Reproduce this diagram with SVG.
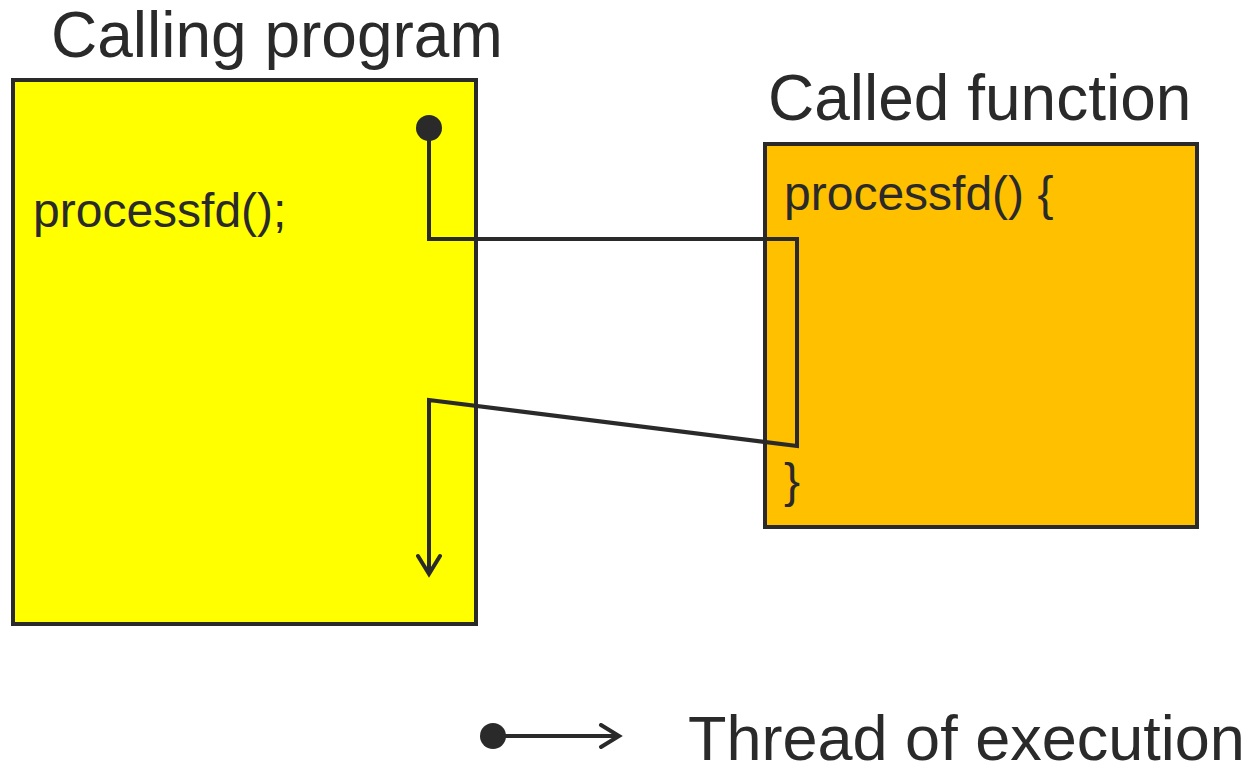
<svg xmlns="http://www.w3.org/2000/svg" width="1252" height="764" viewBox="0 0 1252 764">
<style>
.t{font-family:"Liberation Sans",Arial,sans-serif;fill:#2a2a2a}
.big{font-size:64px}
.code{font-size:48px}
.box{stroke:#2a2a2a;stroke-width:4}
.ln{fill:none;stroke:#2a2a2a;stroke-width:4;stroke-linejoin:miter}
</style>
<defs>
<marker id="arr" viewBox="0 0 26 26" refX="22" refY="13" markerWidth="26" markerHeight="26" markerUnits="userSpaceOnUse" orient="auto">
<path d="M4,2 L22,13 L4,24" fill="none" stroke="#2a2a2a" stroke-width="4" stroke-linecap="round"/>
</marker>
</defs>
<rect width="1252" height="764" fill="#fff"/>
<g id="calling">
<text class="t big" x="51" y="57">Calling program</text>
<rect class="box" x="13" y="80" width="463" height="544" fill="#ffff00"/>
<text class="t code" x="33" y="227">processfd();</text>
</g>
<g id="called">
<text class="t big" x="768" y="120">Called function</text>
<rect class="box" x="765" y="144" width="432" height="383" fill="#ffc000"/>
<text class="t code" x="784" y="210">processfd() {</text>
<text class="t code" x="784" y="497">}</text>
</g>
<g id="connectors">
<circle cx="429" cy="128" r="13" fill="#2a2a2a"/>
<polyline class="ln" points="429,128 429,239 797,239 797,446 429,400 429,574" marker-end="url(#arr)"/>
</g>
<g id="legend">
<circle cx="493" cy="736" r="13" fill="#2a2a2a"/>
<line class="ln" x1="493" y1="736" x2="619" y2="736" marker-end="url(#arr)"/>
<text class="t" font-size="63" x="688" y="760">Thread of execution</text>
</g>
</svg>
